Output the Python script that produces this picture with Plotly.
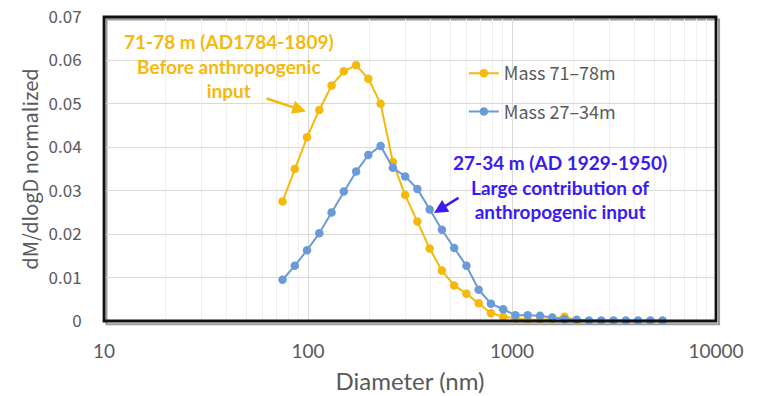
import plotly.graph_objects as go

diameter_nm = [75, 86.1, 98.9, 113.6, 130.5, 149.8, 172.1, 197.6, 227.0, 260.6,
               299.3, 343.7, 394.7, 453.3, 520.6, 597.8, 686.5, 788.4, 905.4, 1039.8,
               1194.1, 1371.3, 1574.8, 1808.5, 2076.9, 2385.1, 2739.0, 3145.5, 3612.3,
               4148.4, 4764.0, 5470.9]

mass_71_78 = [0.0275, 0.0350, 0.0423, 0.0486, 0.0542, 0.0575, 0.0589, 0.0558, 0.0500,
              0.0366, 0.0290, 0.0229, 0.0167, 0.0116, 0.0082, 0.0063, 0.0041, 0.0018,
              0.0010, 0.0006, 0.0003, 0.0003, 0.0005, 0.0010, 0.0001]

mass_27_34 = [0.0095, 0.0127, 0.0163, 0.0202, 0.0250, 0.0298, 0.0344, 0.0382, 0.0403,
              0.0353, 0.0333, 0.0304, 0.0257, 0.0210, 0.0168, 0.0127, 0.0072, 0.0040,
              0.0027, 0.0013, 0.0013, 0.0012, 0.0008, 0.0004, 0.0003, 0.0001, 0.0001,
              0.0001, 0.0001, 0.0001, 0.0001, 0.0001]

series_names = ["Mass 71\u201378m", "Mass 27\u201334m"]
x_tick_vals = [10, 100, 1000, 10000]
x_tick_text = ["10", "100", "1000", "10000"]
y_tick_vals = [0, 0.01, 0.02, 0.03, 0.04, 0.05, 0.06, 0.07]
y_tick_text = ["0", "0.01", "0.02", "0.03", "0.04", "0.05", "0.06", "0.07"]

GOLD = "#F4B90C"
BLUE = "#6A9BD8"
VIOLET = "#3A1AF2"
GRAY_TXT = "#595959"

fig = go.Figure()
fig.add_trace(go.Scatter(
    x=diameter_nm[:len(mass_71_78)], y=mass_71_78, name=series_names[0],
    mode="lines+markers", line=dict(color=GOLD, width=2),
    marker=dict(color=GOLD, size=8.5), cliponaxis=False, legendgroup="a"))
fig.add_trace(go.Scatter(
    x=diameter_nm[:len(mass_27_34)], y=mass_27_34, name=series_names[1],
    mode="lines+markers", line=dict(color=BLUE, width=2),
    marker=dict(color=BLUE, size=8.5), cliponaxis=False, legendgroup="b"))

fig.update_layout(
    width=757, height=396,
    margin=dict(l=104, r=41, t=17, b=75, autoexpand=False),
    paper_bgcolor="white", plot_bgcolor="white",
    font=dict(family="Noto Sans CJK JP", color=GRAY_TXT),
    showlegend=True,
    legend=dict(x=0.588, y=0.875, xanchor="left", yanchor="top",
                bgcolor="rgba(0,0,0,0)", font=dict(size=18, color=GRAY_TXT,
                family="Noto Sans CJK JP"),
                tracegroupgap=12, itemwidth=30),
)

fig.update_xaxes(
    type="log", range=[1, 4], tickvals=x_tick_vals, ticktext=x_tick_text,
    showgrid=True, gridcolor="#D9D9D9", gridwidth=1,
    minor=dict(showgrid=True, gridcolor="#EFEFEF", gridwidth=1,
               dtick="D1"),
    ticks="outside", ticklen=13, tickcolor="rgba(0,0,0,0)",
    tickfont=dict(family="Lato", size=19, color=GRAY_TXT),
    title=dict(text="Diameter (nm)", font=dict(family="Lato", size=24, color=GRAY_TXT),
               standoff=12),
    zeroline=False, showline=False, automargin=False,
)
fig.update_yaxes(
    range=[0, 0.07], tickvals=y_tick_vals, ticktext=y_tick_text,
    showgrid=True, gridcolor="#D9D9D9", gridwidth=1,
    ticks="outside", ticklen=18, tickcolor="rgba(0,0,0,0)",
    tickfont=dict(family="Noto Sans CJK JP", size=17, color=GRAY_TXT),
    title=dict(text="dM/dlogD normalized",
               font=dict(family="Noto Sans CJK JP", size=20, color=GRAY_TXT),
               standoff=4),
    zeroline=False, showline=False, automargin=False,
)

# frame with light shadow
fig.add_shape(type="rect", xref="paper", yref="paper",
              x0=0.004, x1=1.005, y0=-0.011, y1=0.992,
              line=dict(color="#9A9A9A", width=2), layer="below")
fig.add_shape(type="rect", xref="paper", yref="paper",
              x0=0, x1=1, y0=0, y1=1,
              line=dict(color="#111111", width=2.8), layer="above")

# annotations
gold_lines = ["71-78 m (AD1784-1809)", "Before anthropogenic", "input"]
fig.add_annotation(xref="paper", yref="paper", x=(229 - 104) / 612, y=(321 - 66) / 304,
                   text="<br>".join(gold_lines), showarrow=False,
                   font=dict(family="Lato", size=19, color=GOLD, weight="bold"),
                   align="center", xanchor="center", yanchor="middle")
fig.add_annotation(xref="paper", yref="paper",
                   x=(306 - 104) / 612, y=(321 - 111.5) / 304,
                   ax=-41, ay=-13.5, axref="pixel", ayref="pixel",
                   text="", showarrow=True,
                   arrowhead=2, arrowsize=1.1, arrowwidth=2.5, arrowcolor=GOLD)

blue_lines = ["27-34 m (AD 1929-1950)", "Large contribution of", "anthropogenic input"]
fig.add_annotation(xref="paper", yref="paper", x=(560 - 104) / 612, y=(321 - 187) / 304,
                   text="<br>".join(blue_lines), showarrow=False,
                   font=dict(family="Lato", size=19, color=VIOLET, weight="bold"),
                   align="center", xanchor="center", yanchor="middle")
fig.add_annotation(xref="paper", yref="paper",
                   x=(434 - 104) / 612, y=(321 - 213) / 304,
                   ax=26, ay=-16, axref="pixel", ayref="pixel",
                   text="", showarrow=True,
                   arrowhead=2, arrowsize=1.1, arrowwidth=2.5, arrowcolor=VIOLET)

fig.write_html("out.html")
